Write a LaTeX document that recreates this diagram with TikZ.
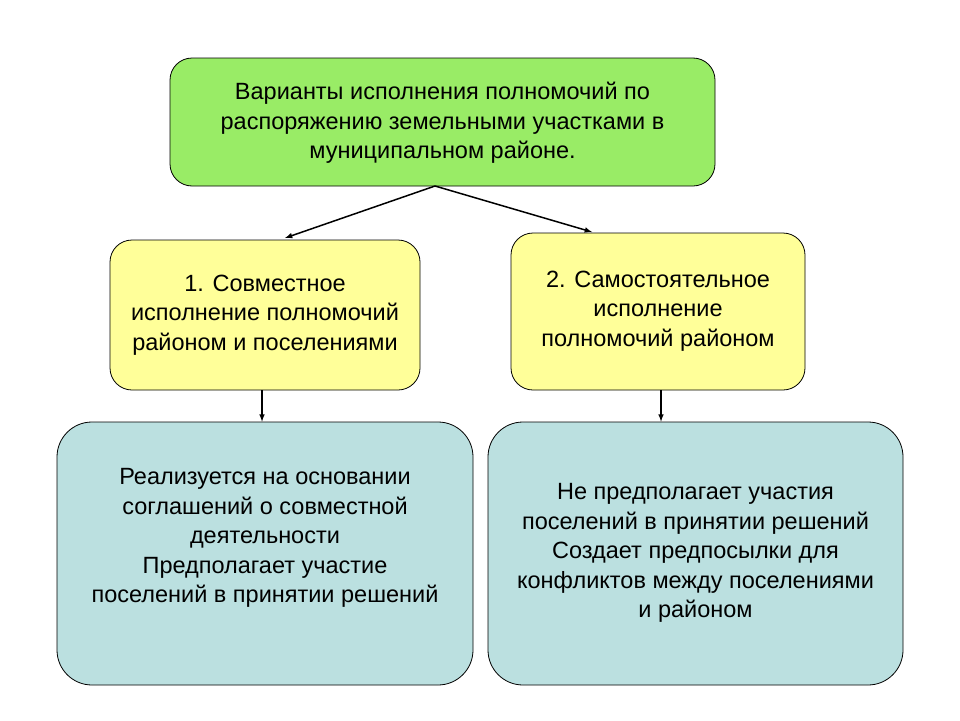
\documentclass[tikz,border=0pt]{standalone}
\usepackage{fontspec}
\setmainfont{Liberation Sans}
\begin{document}
\begin{tikzpicture}[x=1pt,y=-1pt,
  box/.style={draw=black, line width=0.8pt, rounded corners=22pt},
  txt/.style={align=center, font=\fontsize{23.5}{29.5}\selectfont},
  arr/.style={-latex, line width=1.5pt}]
\useasboundingbox (0,0) rectangle (960,720);
\fill[white] (0,0) rectangle (960,720);
\node[box, fill={rgb,255:red,153;green,236;blue,102}, minimum width=545pt, minimum height=128pt] (top) at (442.5,122) {};
\node[txt] (topt) at (442.5,123) {Варианты исполнения полномочий по\\распоряжению земельными участками в\\муниципальном районе.};
\node[box, fill={rgb,255:red,255;green,255;blue,153}, minimum width=310pt, minimum height=150pt] (l) at (265,315) {};
\node[txt] (lt) at (265,315) {1. Совместное\\исполнение полномочий\\районом и поселениями};
\node[box, fill={rgb,255:red,255;green,255;blue,153}, minimum width=294pt, minimum height=157pt] (r) at (658,311.5) {};
\node[txt] (rt) at (658,311) {2. Самостоятельное\\исполнение\\полномочий районом};
\node[box, fill={rgb,255:red,187;green,224;blue,224}, rounded corners=35pt, minimum width=416pt, minimum height=263pt] (bl) at (265,553.5) {};
\node[txt] (blt) at (265,538) {Реализуется на основании\\соглашений о совместной\\деятельности\\Предполагает участие\\поселений в принятии решений};
\node[box, fill={rgb,255:red,187;green,224;blue,224}, rounded corners=35pt, minimum width=415pt, minimum height=263pt] (br) at (695.5,553.5) {};
\node[txt] (brt) at (695.5,553) {Не предполагает участия\\поселений в принятии решений\\Создает предпосылки для\\конфликтов между поселениями\\и районом};
\coordinate (tb) at (435,186);
\draw[arr] (tb) -- (285,238);
\draw[arr] (tb) -- (592,232);
\draw[arr] (l.south -| 262,0) -- (bl.north -| 262,0);
\draw[arr] (r.south -| 661,0) -- (br.north -| 661,0);
\end{tikzpicture}
\end{document}
